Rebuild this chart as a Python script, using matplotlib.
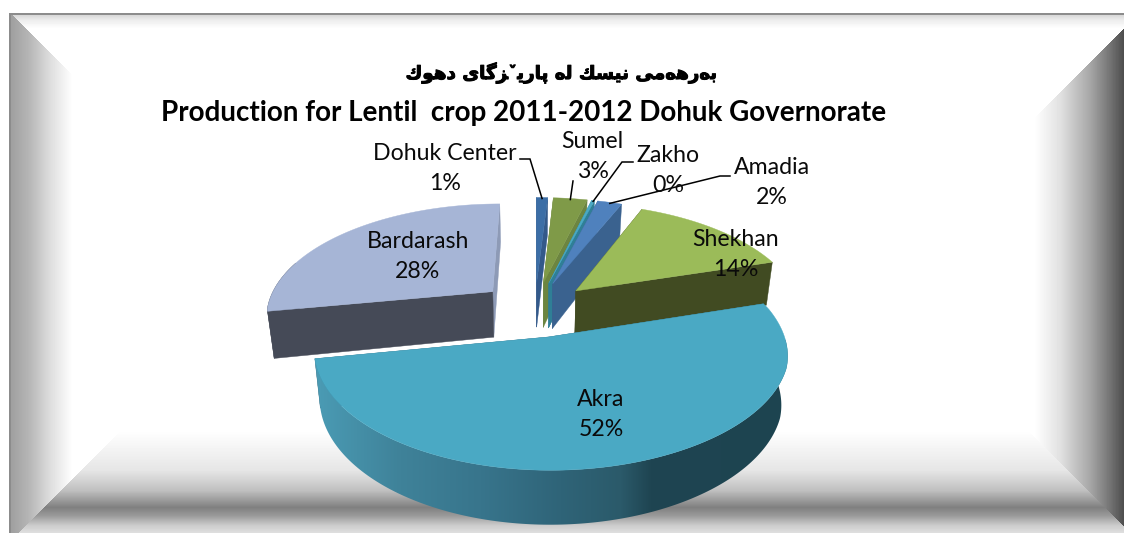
import matplotlib
matplotlib.use("Agg")
import matplotlib.pyplot as plt
from matplotlib.colors import to_rgb
from matplotlib.patches import Polygon
import matplotlib.patheffects as pe
import numpy as np

# slices run clockwise from 12 o'clock
names = ["Dohuk Center", "Sumel", "Zakho", "Amadia", "Shekhan", "Akra", "Bardarash"]
values = [1.0, 3.0, 0.25, 2.15, 14.0, 52.0, 28.0]

top_colors = ["#3c6ea6", "#7f9a48", "#4aa9c4", "#4f81bd", "#9bbb59", "#4aa9c4", "#a6b5d6"]
wall_colors = ["#33598a", "#6c8540", "#2f7f96", "#3a628f", "#414b22", "#2f6a80", "#454a57"]
far_wall_colors = ["#33598a", "#6c8540", "#2f7f96", "#3a628f", "#414b22", "#2f6a80", "#8d9ab6"]
draw_order = [0, 1, 2, 3, 6, 4, 5]

# label centres in pixels: name line y, percent line y
label_x = [445, 592, 668, 772, 736, 601, 418]
label_y = [153, 142, 155, 167, 239, 399, 241]
pct_x = [445, 593, 668, 772, 736, 601, 418]
pct_y = [184, 172, 185, 197, 269, 429, 272]
leader_elbows = {
    0: [(520, 159), (530, 159)],
    1: [(573, 181)],
    2: [(633, 162), (622, 162)],
    3: [(730, 176), (720, 176)],
}

title_ku = ("\uFED9\uFEEE\uFEEB\uFEA9 "
            "\uFBFC\uFE8E\uFB94\uFEB0\u065A\uFBFE\uFEAD\uFE8E\uFB58 "
            "\u06D5\uFEDF "
            "\uFEDA\uFEB4\uFBFF\uFEE7 "
            "\uFBFD\uFEE3\u06D5\uFEEB\uFEAD\u06D5\uFE91")
title_en = "Production for Lentil  crop 2011-2012 Dohuk Governorate"

W, H = 1124, 533
X0, Y0 = 535.0, 309.0
RX, RY = 227.0, 112.0
EXPLODE = 0.25
DEPTH = 47.0

plt.rcParams["font.family"] = ["Lato", "DejaVu Sans"]


def project(u, v):
    # pie plane to pixels, far side shrinks more than the near side grows
    u = np.asarray(u, dtype=float)
    v = np.asarray(v, dtype=float)
    s = 1.0 / (1.0 + np.where(v > 0, 0.204, 0.11) * v)
    sx = 1.0 + 0.02 * np.clip(u, 0, None) * np.clip(-2 * v, 0, 1)
    return X0 + RX * u * s * sx, Y0 - RY * v * s, s


def lower(x, y, s):
    return X0 + (x - X0) * 0.975, y + DEPTH * s


def bevel_background():
    yy, xx = np.mgrid[0:H, 0:W].astype(float)
    img = np.ones((H, W))
    top = np.interp(yy, [13, 20, 28], [0.82, 0.93, 1.0])
    img = np.where(yy < xx + 3, top, img)
    left = (xx < 72) & (yy >= xx + 3) & (xx + yy <= 550)
    img = np.where(left, np.interp(xx, [10, 30, 50, 72], [0.62, 0.72, 0.87, 1.0]), img)
    right = (xx > 1034) & (xx + yy >= 1152) & (yy <= xx - 598)
    img = np.where(right, np.interp(xx, [1034, 1060, 1090, 1110, 1124], [1.0, 0.88, 0.65, 0.45, 0.3]), img)
    bottom = (yy > 430) & (xx + yy > 550) & (yy > xx - 598)
    img = np.where(bottom, np.interp(yy, [430, 470, 490, 507, 515, 525, 533], [1.0, 0.9, 0.75, 0.5, 0.6, 0.8, 0.88]), img)
    img[:13, :] = 1.0
    img[:, :9] = 1.0
    img[13:15, 9:] = 0.55
    img[13:, 9:11] = 0.55
    return img


def akra_gradient():
    stops = [320, 400, 480, 560, 620, 650, 790]
    cols = np.array([to_rgb(c) for c in ["#4a9ab3", "#3f8299", "#38758c", "#2f6478", "#2b5a6a", "#1f4552", "#1d4450"]])
    px = np.arange(300, 800)
    return np.dstack([np.interp(px, stops, cols[:, i])[None, :] for i in range(3)])


fig = plt.figure(figsize=(W / 100, H / 100), dpi=100)
ax = fig.add_axes([0, 0, 1, 1])
ax.imshow(bevel_background(), cmap="gray", vmin=0, vmax=1, extent=(0, W, H, 0), aspect="auto", zorder=0)

total = sum(values)
edges = np.concatenate([[0.0], np.cumsum(values)]) / total * 2 * np.pi
mids = (edges[:-1] + edges[1:]) / 2

for z, i in enumerate(draw_order):
    zbase = 2 + z
    off_u = EXPLODE * np.sin(mids[i])
    off_v = EXPLODE * np.cos(mids[i])
    th = np.linspace(edges[i], edges[i + 1], max(int(np.degrees(edges[i + 1] - edges[i])), 2) + 1)
    x, y, s = project(np.sin(th) + off_u, np.cos(th) + off_v)
    xa, ya, sa = project(off_u, off_v)
    xb, yb = lower(x, y, s)
    xab, yab = lower(xa, ya, sa)

    # radial faces
    ax.fill([xa, x[-1], xb[-1], xab], [ya, y[-1], yb[-1], yab], color=far_wall_colors[i], lw=0.3, zorder=zbase)
    ax.fill([xa, x[0], xb[0], xab], [ya, y[0], yb[0], yab], color=wall_colors[i], lw=0.3, zorder=zbase)

    # outer rim, only the front part shows
    front = np.cos(th) < 0.3
    if front.sum() >= 2:
        rim = np.column_stack([np.r_[x[front], xb[front][::-1]], np.r_[y[front], yb[front][::-1]]])
        if names[i] == "Akra":
            grad = ax.imshow(akra_gradient(), extent=(300, 800, 540, 340), aspect="auto", zorder=zbase)
            grad.set_clip_path(Polygon(rim, transform=ax.transData))
        else:
            ax.fill(rim[:, 0], rim[:, 1], color=wall_colors[i], lw=0.3, zorder=zbase)

    ax.fill(np.r_[xa, x], np.r_[ya, y], color=top_colors[i], lw=0.3, zorder=zbase + 0.5)

# leader lines end on the rim of their slice
for i, pts in leader_elbows.items():
    x_end, y_end, _ = project(np.sin(mids[i]) * (1 + EXPLODE), np.cos(mids[i]) * (1 + EXPLODE))
    xs = [p[0] for p in pts] + [float(x_end)]
    ys = [p[1] for p in pts] + [float(y_end) + 1]
    ax.plot(xs, ys, color="black", lw=1.1, zorder=20, solid_joinstyle="miter")

for i, name in enumerate(names):
    ax.text(label_x[i], label_y[i], name, ha="center", va="center", fontsize=16.7, color="#0a0a0a", zorder=21)
    ax.text(pct_x[i], pct_y[i], f"{values[i] / total * 100:.0f}%", ha="center", va="center", fontsize=16.7, color="#0a0a0a", zorder=21)

ax.text(562, 73, title_ku, ha="center", va="center", fontsize=13.2, fontweight="bold", family=["DejaVu Sans"], color="black", zorder=21,
        path_effects=[pe.withStroke(linewidth=0.7, foreground="black")])
ax.text(524, 113, title_en, ha="center", va="center", fontsize=20, fontweight="bold", color="black", zorder=21)

ax.set_xlim(0, W)
ax.set_ylim(H, 0)
ax.axis("off")
fig.savefig("out.png", dpi=100)
